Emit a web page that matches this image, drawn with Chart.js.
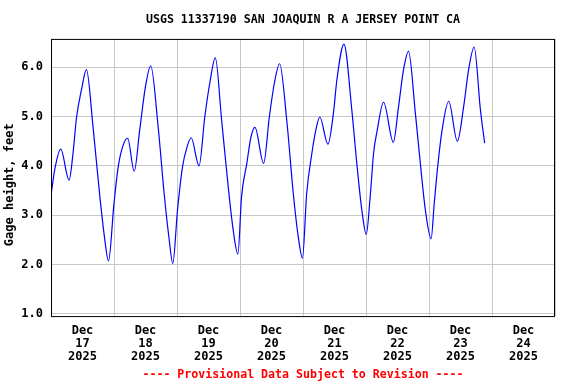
<!DOCTYPE html>
<html>
<head>
<meta charset="utf-8">
<script src="https://cdn.jsdelivr.net/npm/chart.js@4/dist/chart.umd.min.js"></script>
<style>
    html, body { margin: 0; padding: 0; background: #fff; }
</style>
</head>
<body>
<canvas id="gageChart" width="576" height="384"></canvas>
<script>
// hours since Dec 17 2025 00:00 and gage height
const hoursSinceDec17 = [
    0.15, 1.4, 3.7, 6.9, 8.4, 9.7, 11.6, 13.5, 16.0, 18.6, 20.5, 21.9,
    24.0, 25.6, 27.5, 29.2, 31.7, 33.8, 36.0, 38.0, 40.8, 43.1, 44.9, 46.4,
    48.2, 50.1, 51.7, 53.4, 56.4, 58.6, 60.5, 62.6, 65.0, 67.5, 69.4, 71.2,
    72.6, 74.6, 76.2, 77.7, 81.0, 83.2, 85.1, 87.1, 89.8, 92.3, 94.2, 95.8,
    97.4, 99.4, 100.9, 102.4, 105.5, 107.6, 108.9, 111.6, 114.6, 116.5, 118.4, 120.1,
    121.6, 122.9, 124.2, 126.7, 130.4, 132.4, 134.3, 136.2, 138.8, 140.7, 142.6, 144.8,
    146.0, 147.3, 149.0, 151.5, 154.8, 157.2, 159.1, 161.2, 163.6, 165.2
];
const gageHeightFeet = [
    3.46, 3.92, 4.34, 3.71, 4.26, 4.97, 5.54, 5.95, 4.80, 3.38, 2.50, 2.07,
    3.24, 3.98, 4.42, 4.56, 3.89, 4.73, 5.61, 6.03, 4.80, 3.44, 2.56, 2.02,
    3.11, 3.98, 4.36, 4.57, 4.00, 5.00, 5.68, 6.19, 4.93, 3.58, 2.70, 2.21,
    3.38, 4.05, 4.59, 4.78, 4.05, 5.00, 5.68, 6.07, 4.93, 3.44, 2.56, 2.13,
    3.44, 4.26, 4.73, 4.99, 4.44, 5.07, 5.74, 6.47, 5.13, 4.05, 3.11, 2.61,
    3.38, 4.26, 4.70, 5.29, 4.48, 5.20, 5.95, 6.32, 5.07, 4.05, 3.11, 2.52,
    3.24, 3.98, 4.73, 5.31, 4.50, 5.20, 5.95, 6.41, 5.13, 4.46
];
const dayLabels = ['17', '18', '19', '20', '21', '22', '23', '24'];
const monthLabel = 'Dec';
const yearLabel = '2025';
const yTickValues = [1, 2, 3, 4, 5, 6];

const monoFont = 'DejaVu Sans Mono';
const gridColor = '#c8c8c8';

// grid lines at midnight, date labels at noon
const xTickValues = [];
for (let h = 0; h <= dayLabels.length * 24; h += 12) xTickValues.push(h);

const points = hoursSinceDec17.map((h, i) => ({ x: h, y: gageHeightFeet[i] }));

const plotFrame = {
    id: 'plotFrame',
    afterDraw(chart) {
        const { ctx, chartArea } = chart;
        ctx.save();
        ctx.strokeStyle = '#000';
        ctx.lineWidth = 1;
        ctx.strokeRect(chartArea.left + 0.5, chartArea.top + 0.5,
            chartArea.right - chartArea.left - 1, chartArea.bottom - chartArea.top);
        ctx.restore();
    }
};

new Chart(document.getElementById('gageChart'), {
    type: 'line',
    data: {
        datasets: [
            {
                label: 'Gage height',
                data: points,
                borderColor: '#0000ff',
                borderWidth: 1.2,
                pointRadius: 0,
                fill: false,
                cubicInterpolationMode: 'monotone',
            },
        ],
    },
    options: {
        responsive: false,
        animation: false,
        layout: {
            padding: { left: 0, right: 21, top: 0, bottom: 0 },
        },
        scales: {
            x: {
                type: 'linear',
                min: 0,
                max: 192,
                afterBuildTicks: (scale) => {
                    scale.ticks = xTickValues.map((v) => ({ value: v }));
                },
                afterFit: (scale) => {
                    scale.height = 50;
                },
                grid: {
                    drawTicks: false,
                    color: (ctx) => (ctx.tick && ctx.tick.value % 24 === 0 ? gridColor : 'rgba(0,0,0,0)'),
                },
                border: { display: false },
                ticks: {
                    autoSkip: false,
                    maxRotation: 0,
                    padding: 8,
                    color: '#000',
                    font: { family: monoFont, size: 12, weight: 'bold', lineHeight: 13 / 12 },
                    callback: (value) =>
                        value % 24 === 12 ? [monthLabel, dayLabels[(value - 12) / 24], yearLabel] : '',
                },
            },
            y: {
                min: 0.953,
                max: 6.574,
                afterBuildTicks: (scale) => {
                    scale.ticks = yTickValues.map((v) => ({ value: v }));
                },
                afterFit: (scale) => {
                    scale.width = 51;
                },
                grid: { drawTicks: false, color: gridColor },
                border: { display: false },
                ticks: {
                    padding: 8,
                    color: '#000',
                    font: { family: monoFont, size: 12, weight: 'bold' },
                    callback: (value) => value.toFixed(1),
                },
                title: {
                    display: true,
                    // trailing spaces nudge the label down like the original
                    text: 'Gage height, feet  ',
                    color: '#000',
                    padding: { top: 3, bottom: 4 },
                    font: { family: monoFont, size: 12, weight: 'bold' },
                },
            },
        },
        plugins: {
            legend: { display: false },
            tooltip: { enabled: false },
            title: {
                display: true,
                fullSize: false,
                text: 'USGS 11337190 SAN JOAQUIN R A JERSEY POINT CA',
                color: '#000',
                padding: { top: 13, bottom: 12 },
                font: { family: monoFont, size: 11.6, weight: 'bold' },
            },
            subtitle: {
                display: true,
                fullSize: false,
                position: 'bottom',
                text: '---- Provisional Data Subject to Revision ----',
                color: '#ff0000',
                padding: { top: 1.5, bottom: 2.5 },
                font: { family: monoFont, size: 11.6, weight: 'bold' },
            },
        },
    },
    plugins: [plotFrame],
});
</script>
</body>
</html>
